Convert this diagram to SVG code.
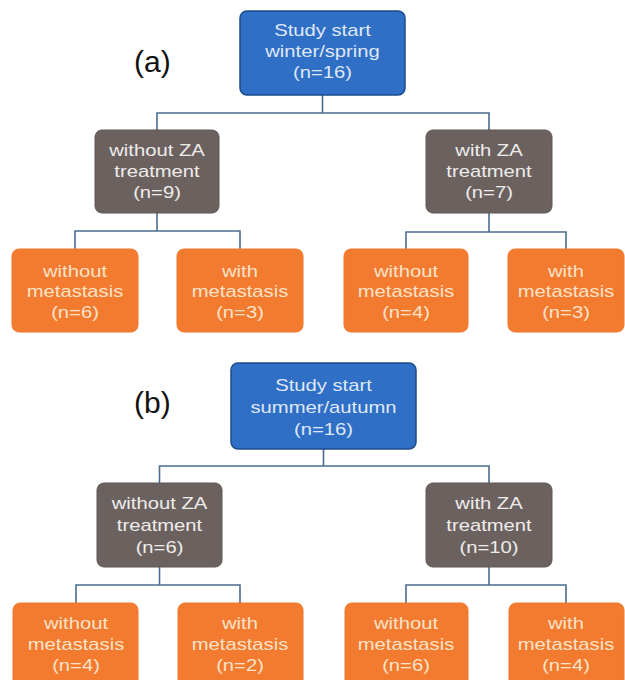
<svg xmlns="http://www.w3.org/2000/svg" width="625" height="680" viewBox="0 0 625 680">
<style>
.blue{fill:#2f6fc6;stroke:#1d4b8c;stroke-width:1.5}
.gray{fill:#6b6260;stroke:#5e5654;stroke-width:1}
.orange{fill:#f27b2f;stroke:#f0772a;stroke-width:1}
.t{font-family:"Liberation Sans",Arial,sans-serif;font-size:17px;text-anchor:middle}
.tb{fill:#dfe8f6}
.tg{fill:#eeeceb}
.to{fill:#fde2c9}
.lbl{font-family:"Liberation Sans",Arial,sans-serif;font-size:30px;fill:#111}
.c{fill:none;stroke:#4a6d90;stroke-width:1.6}
</style>
<rect width="625" height="680" fill="#ffffff"/>
<text class="lbl" x="134" y="72">(a)</text>
<text class="lbl" x="134" y="413">(b)</text>
<g id="connectors">
<path class="c" d="M322.5 95V113M157 130V113H489V130"/>
<path class="c" d="M157 213V231M75 249V231H240V249"/>
<path class="c" d="M489 213V232M406 249V232H566V249"/>
<path class="c" d="M323.5 449V466M159.5 483V466H489V483"/>
<path class="c" d="M159.5 567V585M76 603V585H240V603"/>
<path class="c" d="M489 567V585M406 603V585H566V603"/>
</g>
<g id="a_start"><rect class="blue" x="240" y="11" width="165" height="84" rx="7"/>
<text class="t tb" transform="translate(322.5 0) scale(1.19 1)"><tspan x="0" y="36">Study start</tspan><tspan x="0" y="57">winter/spring</tspan><tspan x="0" y="78">(n=16)</tspan></text></g>
<g id="a_without"><rect class="gray" x="95" y="130" width="124" height="83" rx="7"/>
<text class="t tg" transform="translate(157 0) scale(1.19 1)"><tspan x="0" y="156">without ZA</tspan><tspan x="0" y="177">treatment</tspan><tspan x="0" y="198">(n=9)</tspan></text></g>
<g id="a_with"><rect class="gray" x="426" y="130" width="126" height="83" rx="7"/>
<text class="t tg" transform="translate(489 0) scale(1.19 1)"><tspan x="0" y="156">with ZA</tspan><tspan x="0" y="177">treatment</tspan><tspan x="0" y="198">(n=7)</tspan></text></g>
<g id="a_o1"><rect class="orange" x="12" y="249" width="126" height="83" rx="7"/>
<text class="t to" transform="translate(75 0) scale(1.19 1)"><tspan x="0" y="277">without</tspan><tspan x="0" y="297">metastasis</tspan><tspan x="0" y="318">(n=6)</tspan></text></g>
<g id="a_o2"><rect class="orange" x="177" y="249" width="126" height="83" rx="7"/>
<text class="t to" transform="translate(240 0) scale(1.19 1)"><tspan x="0" y="277">with</tspan><tspan x="0" y="297">metastasis</tspan><tspan x="0" y="318">(n=3)</tspan></text></g>
<g id="a_o3"><rect class="orange" x="344" y="249" width="124" height="83" rx="7"/>
<text class="t to" transform="translate(406 0) scale(1.19 1)"><tspan x="0" y="277">without</tspan><tspan x="0" y="297">metastasis</tspan><tspan x="0" y="318">(n=4)</tspan></text></g>
<g id="a_o4"><rect class="orange" x="508" y="249" width="116" height="83" rx="7"/>
<text class="t to" transform="translate(566 0) scale(1.19 1)"><tspan x="0" y="277">with</tspan><tspan x="0" y="297">metastasis</tspan><tspan x="0" y="318">(n=3)</tspan></text></g>
<g id="b_start"><rect class="blue" x="231" y="363" width="185" height="86" rx="7"/>
<text class="t tb" transform="translate(323.5 0) scale(1.19 1)"><tspan x="0" y="391">Study start</tspan><tspan x="0" y="413">summer/autumn</tspan><tspan x="0" y="435">(n=16)</tspan></text></g>
<g id="b_without"><rect class="gray" x="97" y="483" width="125" height="84" rx="7"/>
<text class="t tg" transform="translate(159.5 0) scale(1.19 1)"><tspan x="0" y="509">without ZA</tspan><tspan x="0" y="531">treatment</tspan><tspan x="0" y="553">(n=6)</tspan></text></g>
<g id="b_with"><rect class="gray" x="426" y="483" width="126" height="84" rx="7"/>
<text class="t tg" transform="translate(489 0) scale(1.19 1)"><tspan x="0" y="509">with ZA</tspan><tspan x="0" y="531">treatment</tspan><tspan x="0" y="553">(n=10)</tspan></text></g>
<g id="b_o1"><rect class="orange" x="13" y="603" width="125" height="84" rx="7"/>
<text class="t to" transform="translate(76 0) scale(1.19 1)"><tspan x="0" y="629">without</tspan><tspan x="0" y="650">metastasis</tspan><tspan x="0" y="671">(n=4)</tspan></text></g>
<g id="b_o2"><rect class="orange" x="178" y="603" width="125" height="84" rx="7"/>
<text class="t to" transform="translate(240 0) scale(1.19 1)"><tspan x="0" y="629">with</tspan><tspan x="0" y="650">metastasis</tspan><tspan x="0" y="671">(n=2)</tspan></text></g>
<g id="b_o3"><rect class="orange" x="345" y="603" width="123" height="84" rx="7"/>
<text class="t to" transform="translate(406 0) scale(1.19 1)"><tspan x="0" y="629">without</tspan><tspan x="0" y="650">metastasis</tspan><tspan x="0" y="671">(n=6)</tspan></text></g>
<g id="b_o4"><rect class="orange" x="509" y="603" width="115" height="84" rx="7"/>
<text class="t to" transform="translate(566 0) scale(1.19 1)"><tspan x="0" y="629">with</tspan><tspan x="0" y="650">metastasis</tspan><tspan x="0" y="671">(n=4)</tspan></text></g>
</svg>
